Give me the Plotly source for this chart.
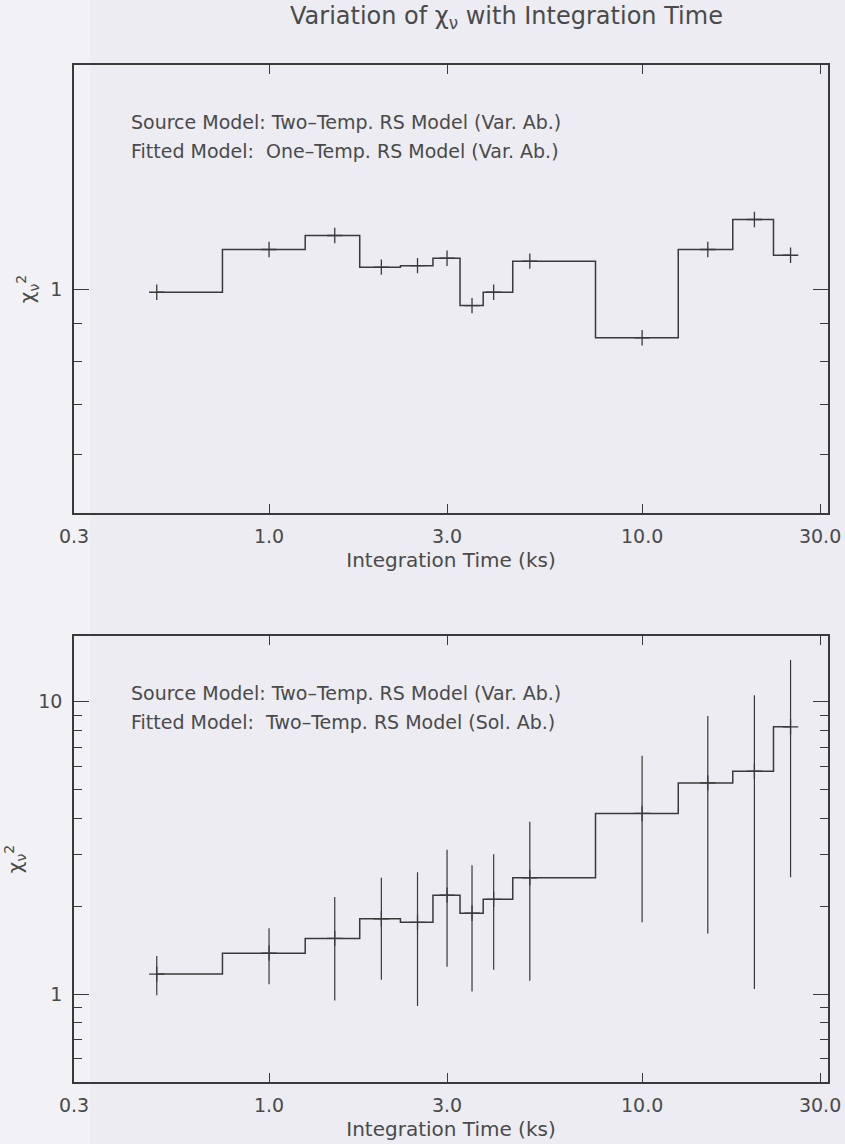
import math
import plotly.graph_objects as go

# Integration times (ks) at which the spectra were simulated and fitted
t_ks = [0.5, 1.0, 1.5, 2.0, 2.5, 3.0, 3.5, 4.0, 5.0, 10.0, 15.0, 20.0, 25.0]

# Reduced chi-square, one-temperature RS fit (variable abundances)
chi_one_temp = [0.99, 1.13, 1.18, 1.07, 1.075, 1.10, 0.95, 0.99, 1.09, 0.86, 1.13, 1.24, 1.11]

# Reduced chi-square, two-temperature RS fit (solar abundances) and its errors
chi_sol_ab = [1.17, 1.38, 1.55, 1.81, 1.76, 2.18, 1.89, 2.11, 2.50, 4.15, 5.28, 5.79, 8.21]
chi_sol_ab_err = [0.18, 0.30, 0.60, 0.69, 0.85, 0.94, 0.87, 0.90, 1.39, 2.39, 3.67, 4.75, 5.70]

x_tick_vals = [0.3, 1.0, 3.0, 10.0, 30.0]
x_tick_text = ["0.3", "1.0", "3.0", "10.0", "30.0"]
x_limits = [0.3, 31.5]

top_y_major = [1]
top_y_text = ["1"]
top_y_minor = [0.6, 0.7, 0.8, 0.9]
top_y_limits = [0.5, 2.0]

bot_y_major = [1, 10]
bot_y_text = ["1", "10"]
bot_y_minor = [0.6, 0.7, 0.8, 0.9, 2, 3, 4, 5, 6, 7, 8, 9]
bot_y_limits = [0.5, 16.8]

notes_top = ["Source Model: Two\u2013Temp. RS Model (Var. Ab.)",
             "Fitted Model:\u00a0 One\u2013Temp. RS Model (Var. Ab.)"]
notes_bot = ["Source Model: Two\u2013Temp. RS Model (Var. Ab.)",
             "Fitted Model:\u00a0 Two\u2013Temp. RS Model (Sol. Ab.)"]

INK = "#3a3a3a"
TXT = "#4a4a4a"
BG = "#ECECF2"
FONT = "DejaVu Sans, Verdana, sans-serif"
W, H = 845, 1144


def histogram_steps(x, y):
    """Histogram-style outline: bin edges halfway between samples (data space)."""
    edges = [x[0]] + [(a + b) / 2 for a, b in zip(x[:-1], x[1:])] + [x[-1]]
    xs, ys = [], []
    for i, v in enumerate(y):
        xs += [edges[i], edges[i + 1]]
        ys += [v, v]
    return xs, ys


def px_x(p):
    return p / W


def px_y(p):
    return 1 - p / H


plus = dict(symbol="cross-thin-open", size=11, color=INK, line=dict(color=INK, width=1.3))

fig = go.Figure()

# upper panel
sx, sy = histogram_steps(t_ks, chi_one_temp)
fig.add_trace(go.Scatter(x=sx, y=sy, mode="lines", line=dict(color=INK, width=1.5),
                         xaxis="x", yaxis="y", hoverinfo="skip"))
fig.add_trace(go.Scatter(x=t_ks, y=chi_one_temp, mode="markers", marker=plus,
                         xaxis="x", yaxis="y"))

# lower panel
sx2, sy2 = histogram_steps(t_ks, chi_sol_ab)
fig.add_trace(go.Scatter(x=sx2, y=sy2, mode="lines", line=dict(color=INK, width=1.5),
                         xaxis="x2", yaxis="y2", hoverinfo="skip"))
fig.add_trace(go.Scatter(x=t_ks, y=chi_sol_ab, mode="markers", marker=plus,
                         error_y=dict(type="data", array=chi_sol_ab_err, visible=True,
                                      color=INK, thickness=1.2, width=0),
                         xaxis="x2", yaxis="y2"))

xdom = [px_x(74), px_x(828)]


def x_axis(anchor):
    return dict(type="log", domain=xdom, anchor=anchor, automargin=False,
                range=[math.log10(x_limits[0]), math.log10(x_limits[1])],
                tickmode="array", tickvals=x_tick_vals, ticktext=x_tick_text,
                ticks="inside", ticklen=9, tickwidth=1.3, tickcolor=INK,
                showline=True, linecolor=INK, linewidth=1.5, mirror="allticks",
                showgrid=False, zeroline=False, ticklabelstandoff=5,
                tickfont=dict(family=FONT, size=19, color=TXT),
                title=dict(text="Integration Time (ks)", standoff=7,
                           font=dict(family=FONT, size=20, color=TXT)))


def y_axis(anchor, dom, lim, major, text, minor):
    return dict(type="log", domain=dom, anchor=anchor, automargin=False,
                range=[math.log10(lim[0]), math.log10(lim[1])],
                tickmode="array", tickvals=major, ticktext=text,
                ticks="inside", ticklen=15, tickwidth=1.3, tickcolor=INK,
                minor=dict(tickmode="array", tickvals=minor, ticks="inside",
                           ticklen=8, tickwidth=1.3, tickcolor=INK, showgrid=False),
                showline=True, linecolor=INK, linewidth=1.5, mirror="allticks",
                showgrid=False, zeroline=False, ticklabelstandoff=6,
                tickfont=dict(family=FONT, size=19, color=TXT),
                title=dict(text="\u03c7<sub>\u03bd</sub><sup>2</sup>", standoff=10,
                           font=dict(family=FONT, size=20, color=TXT)))


annotations = [dict(text="Variation of \u03c7<sub>\u03bd</sub> with Integration Time",
                    xref="paper", yref="paper", x=px_x(506), y=px_y(17),
                    xanchor="center", yanchor="middle", showarrow=False,
                    font=dict(family=FONT, size=24, color=TXT))]
for notes, y0 in ((notes_top, 65), (notes_bot, 636)):
    for k, line in enumerate(notes):
        annotations.append(dict(text=line, xref="paper", yref="paper",
                                x=px_x(129), y=px_y(y0 + 57 + 29 * k),
                                xanchor="left", yanchor="middle", showarrow=False,
                                font=dict(family=FONT, size=19, color=TXT)))

fig.update_layout(
    width=W, height=H, margin=dict(l=0, r=0, t=0, b=0),
    paper_bgcolor=BG, plot_bgcolor="rgba(0,0,0,0)", showlegend=False,
    xaxis=x_axis("y"),
    yaxis=y_axis("x", [px_y(513), px_y(65)], top_y_limits, top_y_major, top_y_text, top_y_minor),
    xaxis2=x_axis("y2"),
    yaxis2=y_axis("x2", [px_y(1082), px_y(636)], bot_y_limits, bot_y_major, bot_y_text, bot_y_minor),
    annotations=annotations,
    shapes=[dict(type="rect", xref="paper", yref="paper", x0=-0.01, x1=px_x(90), y0=-0.01, y1=1.01,
                 fillcolor="rgba(255,255,255,0.35)", line=dict(width=0), layer="below")],
)

fig.write_html("out.html")
